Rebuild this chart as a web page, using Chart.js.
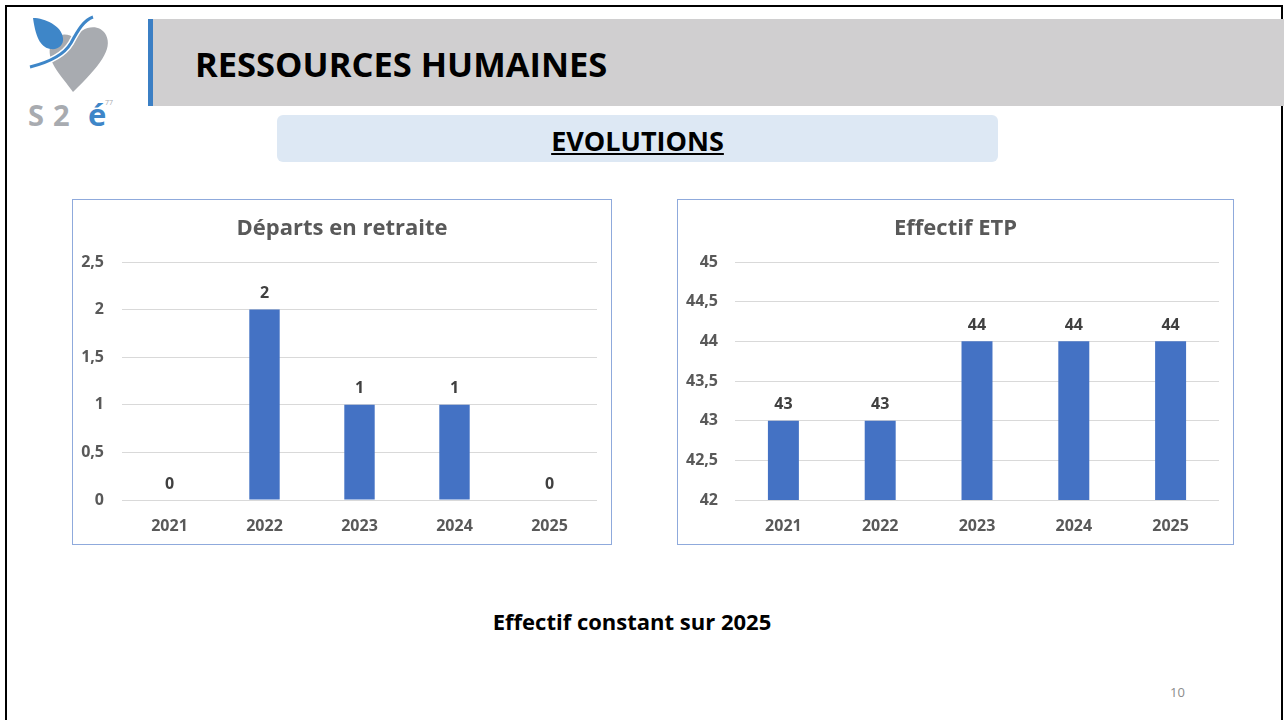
<!DOCTYPE html>
<html>
<head>
<meta charset="utf-8">
<script src="https://cdn.jsdelivr.net/npm/chart.js@4.4.1/dist/chart.umd.min.js"></script>
<style>
  html, body { margin: 0; padding: 0; background: #fff; }
  body { width: 1284px; height: 720px; position: relative; overflow: hidden; font-family: "Open Sans", Lato, sans-serif; }
  .frame { position: absolute; left: 5px; top: 5px; width: 1274px; height: 730px; border: 2px solid #000; }
  .header { position: absolute; left: 148px; top: 19px; width: 1136px; height: 87px; background: #d0cfd0; }
  .header .bar { position: absolute; left: 0; top: 0; width: 5px; height: 87px; background: #3b7fc4; }
  .header h1 { position: absolute; left: 47px; top: 0; margin: 0; line-height: 90px; font-size: 34.5px; font-weight: 700; color: #000; }
  .sub { position: absolute; left: 277px; top: 115px; width: 721px; height: 47px; background: #dde8f4; border-radius: 6px;
         text-align: center; line-height: 52px; font-size: 27px; font-weight: 700; text-decoration: underline; color: #000; }
  .box { position: absolute; top: 199px; height: 344px; border: 1px solid #8faadc; }
  .box canvas { display: block; }
  .note { position: absolute; left: 0; width: 1264px; top: 606px; text-align: center; font-size: 22px; font-weight: 700; color: #000; }
  .page { position: absolute; left: 1170px; top: 683px; font-size: 13px; color: #8c8c8c; }
  .logo { position: absolute; left: 0; top: 0; }
</style>
</head>
<body>
<div class="frame"></div>
<svg class="logo" width="130" height="135" viewBox="0 0 130 135">
  <path d="M73 92 C62 76 47 63 50 47 C53 34 67 31 75 39 C80 27 99 22 106 35 C113 49 100 66 73 92 Z" fill="#a8abb0"/>
  <path d="M33 18 C45 18 62 26 63 38 C64 45 58 50 51 49 C42 48 36 40 33 18 Z" fill="#3e86c8"/>
  <path d="M30 67 C50 62 64 55 71 43 C78 30 84 20 93 17" stroke="#ffffff" stroke-width="6" fill="none"/>
  <path d="M30 67 C50 62 64 55 71 43 C78 30 84 20 93 17" stroke="#3e86c8" stroke-width="3" fill="none"/>
  <text x="28" y="126" font-family="'Open Sans', sans-serif" font-weight="700" font-size="29" fill="#a8abb0">S</text>
  <text x="53" y="126" font-family="'Open Sans', sans-serif" font-weight="700" font-size="29" fill="#a8abb0">2</text>
  <text x="88" y="126" font-family="'Open Sans', sans-serif" font-weight="700" font-size="31" fill="#3e86c8">é</text>
  <text x="105" y="105" font-family="'Open Sans', sans-serif" font-size="7" fill="#a8abb0">77</text>
</svg>
<div class="header"><div class="bar"></div><h1>RESSOURCES HUMAINES</h1></div>
<div class="sub">EVOLUTIONS</div>
<div class="box" style="left:72px;width:538px;"><canvas id="retraiteChart" width="538" height="344"></canvas></div>
<div class="box" style="left:677px;width:555px;"><canvas id="etpChart" width="555" height="344"></canvas></div>
<div class="note">Effectif constant sur 2025</div>
<div class="page">10</div>

<script>
const years = ["2021", "2022", "2023", "2024", "2025"];
const departs = [0, 2, 1, 1, 0];
const effectif = [43, 43, 44, 44, 44];
const departsTicks = [0, 0.5, 1, 1.5, 2, 2.5];
const effectifTicks = [42, 42.5, 43, 43.5, 44, 44.5, 45];

const barBlue = "#4472c4";
const textGrey = "#595959";
const gridGrey = "#d9d9d9";
const fontFamily = "'Open Sans', Lato, sans-serif";

function frNumber(v) {
  return String(v).replace(".", ",");
}

// value labels above each bar
const valueLabels = {
  id: "valueLabels",
  afterDatasetsDraw(chart) {
    const ctx = chart.ctx;
    const meta = chart.getDatasetMeta(0);
    const data = chart.data.datasets[0].data;
    ctx.save();
    ctx.font = "700 16px " + fontFamily;
    ctx.fillStyle = "#404040";
    ctx.textAlign = "center";
    ctx.textBaseline = "middle";
    meta.data.forEach((bar, i) => {
      ctx.fillText(frNumber(data[i]), bar.x, bar.y - 16);
    });
    ctx.restore();
  }
};

// title centred on the whole canvas (the built-in one follows the layout padding)
const boxTitle = {
  id: "boxTitle",
  afterDraw(chart, args, opts) {
    const ctx = chart.ctx;
    ctx.save();
    ctx.font = "700 22px " + fontFamily;
    ctx.fillStyle = textGrey;
    ctx.textAlign = "center";
    ctx.textBaseline = "middle";
    ctx.fillText(opts.text, chart.width / 2, 29);
    ctx.restore();
  }
};

function buildChart(id, title, values, ticks, yAxisWidth, tickPad) {
  const ctx = document.getElementById(id).getContext("2d");
  new Chart(ctx, {
    type: "bar",
    data: {
      labels: years,
      datasets: [{
        data: values,
        backgroundColor: barBlue,
        barPercentage: 0.5,
        categoryPercentage: 0.64
      }]
    },
    options: {
      responsive: false,
      animation: false,
      layout: { padding: { left: 0, right: 14, top: 62, bottom: 0 } },
      plugins: {
        legend: { display: false },
        tooltip: { enabled: false },
        title: { display: false },
        boxTitle: { text: title }
      },
      scales: {
        x: {
          grid: { display: false },
          border: { display: false },
          ticks: { color: textGrey, padding: 9, font: { family: fontFamily, size: 16, weight: "700" } },
          afterFit(scale) { scale.height = 44; }
        },
        y: {
          min: ticks[0],
          max: ticks[ticks.length - 1],
          afterBuildTicks(scale) { scale.ticks = ticks.map(v => ({ value: v })); },
          grid: { color: gridGrey, lineWidth: 1, drawTicks: false },
          border: { display: false },
          ticks: {
            color: textGrey,
            padding: tickPad,
            font: { family: fontFamily, size: 16, weight: "700" },
            callback: v => frNumber(v)
          },
          afterFit(scale) { scale.width = yAxisWidth; }
        }
      }
    },
    plugins: [valueLabels, boxTitle]
  });
}

buildChart("retraiteChart", "Départs en retraite", departs, departsTicks, 49, 18);
buildChart("etpChart", "Effectif ETP", effectif, effectifTicks, 57, 17);
</script>
</body>
</html>
